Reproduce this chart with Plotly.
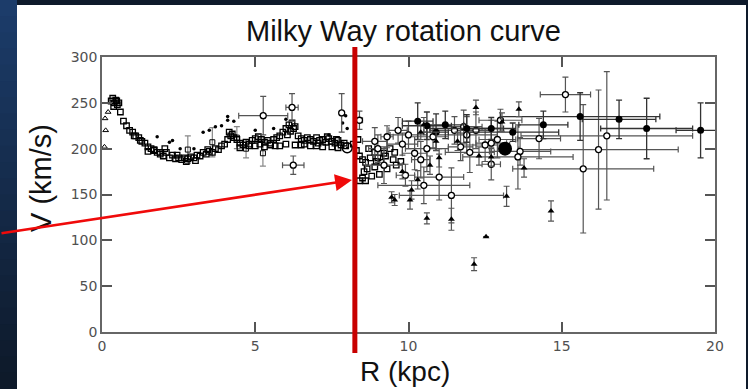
import plotly.graph_objects as go

# ---------------- data ----------------
# dense inner curve: open squares
sq_r = [0.3, 0.35, 0.4, 0.45, 0.5, 0.55, 0.6, 0.7, 0.8, 0.9, 1.0, 1.1, 1.2, 1.3, 1.4, 1.5,
        1.6, 1.7, 1.8, 1.9, 2.0, 2.1, 2.2, 2.3, 2.4, 2.5, 2.6, 2.7, 2.8, 2.9, 3.0, 3.1,
        3.2, 3.3, 3.4, 3.5, 3.6, 3.7, 3.8, 3.9, 4.0, 4.1, 4.2, 4.3, 4.4, 4.5, 4.6, 4.7,
        4.8, 4.9, 5.0, 5.1, 5.2, 5.3, 5.4, 5.5, 5.6, 5.7, 5.8, 5.9, 6.0, 6.1, 6.2, 6.3,
        6.4, 6.5, 6.6, 6.7, 6.8, 6.9, 7.0, 7.1, 7.2, 7.3, 7.4, 7.5, 7.6, 7.7, 7.8, 7.9,
        1.5, 1.7, 1.9, 2.05, 4.5, 4.8, 5.0, 5.3, 5.5, 5.8, 6.0, 6.3, 6.5, 6.8, 7.0, 7.2,
        7.5, 7.7, 6.15, 6.25, 4.15, 4.25, 0.38, 0.48, 2.45, 2.75, 3.05, 3.45, 5.15, 5.65,
        6.05, 6.6, 7.05, 7.35, 7.65, 7.95, 1.25, 1.05,
        8.2, 8.3, 8.4, 8.5, 8.6, 8.5, 8.4, 8.6, 8.8, 8.9, 9.0, 9.1, 9.2, 9.3, 9.5, 9.6,
        8.7, 8.9, 9.4, 8.55, 8.75, 9.05, 8.35, 8.65, 8.95, 9.25, 9.55, 9.75]
sq_v = [252, 255, 250, 253, 248, 250, 240, 230, 225, 220, 218, 214, 212, 208, 206, 202,
        200, 198, 196, 194, 192, 196, 190, 193, 189, 190, 188, 190, 189, 191, 190, 193,
        192, 196, 194, 197, 196, 200, 199, 203, 205, 210, 214, 212, 210, 206, 204, 207,
        205, 209, 211, 213, 210, 207, 209, 206, 210, 212, 214, 218, 222, 226, 228, 224,
        214, 211, 209, 212, 210, 208, 212, 209, 210, 207, 211, 208, 206, 209, 204, 206,
        197, 199, 196, 200, 201, 203, 203, 202, 204, 203, 205, 204, 204, 203, 203, 202,
        202, 201, 219, 222, 218, 216, 246, 252, 193, 186, 187, 199, 205, 203,
        215, 205, 206, 213, 210, 203, 209, 214,
        205, 198, 192, 188, 185, 168, 165, 165, 170, 180, 190, 185, 195, 178, 188, 182,
        200, 196, 200, 175, 190, 172, 210, 178, 186, 192, 196, 186]

# small filled dots
dot_r = [1.8, 2.2, 2.3, 2.55, 3.0, 3.3, 3.5, 3.7, 3.9, 4.1, 4.1, 4.3, 5.0, 5.6, 6.0,
         7.4, 7.85, 7.95, 8.0]
dot_v = [213, 207, 209, 200, 200, 218, 220, 224, 225, 235, 231, 230, 220, 222, 232,
         215, 228, 236, 222]

# open triangles at the very centre
tri_o_r = [0.1, 0.12, 0.08, 0.2]
tri_o_v = [233, 220, 202, 240]

# inner points with error bars (small crosses)
ie_r = [2.8, 3.6, 4.4, 5.25, 4.7]
ie_v = [199, 207, 212, 195, 200]
ie_dv = [15, 16, 12, 14, 10]

# open circles with error bars
oc_r = [5.26, 6.2, 6.24, 7.82, 8.4, 9.66, 9.3, 9.0, 9.8, 10.2, 10.0, 10.4, 10.8, 11.5,
        11.8, 11.9, 12.2, 12.5, 12.7, 12.9, 13.0, 11.7, 12.0, 12.7, 13.64, 13.57, 14.26,
        15.12, 16.47, 16.2, 15.7, 11.4, 11.0, 10.5, 9.9, 9.2, 8.9, 10.6]
oc_v = [236, 245, 182, 239, 231, 220, 213, 200, 205, 195, 215, 188, 213, 220,
        224, 215, 220, 204, 206, 210, 231, 202, 196, 183, 197, 191, 211,
        259, 214, 199, 178, 149, 169, 160, 171, 182, 208, 200]
oc_dr = [0.8, 0.2, 0.35, 0.0, 0.1, 0.3, 0.2, 0.3, 0.5, 0.4, 0.6, 0.3, 0.5, 0.8,
         0.6, 1.0, 0.5, 0.8, 0.5, 0.6, 0.7, 0.4, 0.8, 0.3, 1.0, 1.8, 0.7,
         0.82, 2.8, 2.6, 2.3, 1.7, 0.8, 1.5, 0.3, 0.6, 0.4, 0.7]
oc_dv = [21, 15, 10, 21, 10, 14, 12, 15, 12, 18, 15, 20, 12, 15,
         18, 20, 20, 18, 25, 20, 12, 15, 22, 17, 15, 35, 22,
         19, 70, 65, 70, 30, 25, 20, 12, 20, 15, 25]

# filled circles with error bars
fc_r = [11.2, 11.9, 12.7, 13.4, 14.4, 15.6, 16.87, 17.77, 19.53, 10.6, 10.3, 10.9]
fc_v = [226, 222, 222, 218, 226, 235, 232, 222, 220, 225, 230, 218]
fc_dr = [0.6, 1.2, 0.8, 1.5, 0.8, 2.6, 1.2, 1.5, 0.8, 0.8, 0.5, 0.4]
fc_dv = [15, 15, 12, 10, 15, 26, 21, 33, 30, 15, 20, 20]

# filled triangles with error bars
ft_r = [12.2, 13.6, 13.77, 13.2, 14.65, 12.53, 12.14, 11.4, 11.0, 11.6, 12.3, 12.7,
        13.05, 10.4, 10.5, 10.7, 10.1, 10.05, 9.45, 9.55, 10.3, 10.6, 9.8, 10.9]
ft_v = [245, 243, 179, 148, 132, 104, 74, 123, 190, 208, 192, 191,
        229, 218, 226, 182, 155, 144, 147, 144, 166, 124, 175, 208]
ft_dv = [8, 8, 10, 11, 11, 0, 7, 12, 10, 10, 10, 10,
         10, 8, 8, 10, 10, 10, 6, 6, 10, 6, 8, 10]

# special markers
big_r = [13.15]
big_v = [200]
sun_r = [8.0]
sun_v = [201]

r_sun_line = 8.25          # position of the red vertical line (kpc)

x_ticks = [0, 5, 10, 15, 20]
y_ticks = [0, 50, 100, 150, 200, 250, 300]

# ---------------- geometry ----------------
W, H = 748, 389
ML, MR, MT, MB = 102, 33, 57, 57
PW, PH = W - ML - MR, H - MT - MB


def pxx(p):
    return (p - ML) / PW


def pxy(p):
    return (H - MB - p) / PH


EB = "#555555"
fig = go.Figure()

fig.add_trace(go.Scatter(x=ie_r, y=ie_v, mode="markers",
                         marker=dict(symbol="square-open", size=5, color="black", line=dict(width=1)),
                         error_y=dict(type="data", array=ie_dv, color="#888888", thickness=1.2, width=3)))
fig.add_trace(go.Scatter(x=sq_r, y=sq_v, mode="markers",
                         marker=dict(symbol="square-open", size=5.5, color="black", line=dict(width=1.3))))
fig.add_trace(go.Scatter(x=dot_r, y=dot_v, mode="markers",
                         marker=dict(symbol="circle", size=3.5, color="black")))
fig.add_trace(go.Scatter(x=tri_o_r, y=tri_o_v, mode="markers",
                         marker=dict(symbol="triangle-up-open", size=5, color="black", line=dict(width=1))))
fig.add_trace(go.Scatter(x=oc_r, y=oc_v, mode="markers",
                         marker=dict(symbol="circle", size=6, color="white", line=dict(width=1.3, color="black")),
                         error_x=dict(type="data", array=oc_dr, color=EB, thickness=1.2, width=3),
                         error_y=dict(type="data", array=oc_dv, color=EB, thickness=1.2, width=3)))
fig.add_trace(go.Scatter(x=fc_r, y=fc_v, mode="markers",
                         marker=dict(symbol="circle", size=7, color="black"),
                         error_x=dict(type="data", array=fc_dr, color="#333333", thickness=1.3, width=3),
                         error_y=dict(type="data", array=fc_dv, color="#333333", thickness=1.3, width=3)))
fig.add_trace(go.Scatter(x=ft_r, y=ft_v, mode="markers",
                         marker=dict(symbol="triangle-up", size=6, color="black"),
                         error_y=dict(type="data", array=ft_dv, color=EB, thickness=1.2, width=3)))
fig.add_trace(go.Scatter(x=big_r, y=big_v, mode="markers",
                         marker=dict(symbol="circle", size=14, color="black")))
fig.add_trace(go.Scatter(x=sun_r, y=sun_v, mode="markers",
                         marker=dict(symbol="circle-open-dot", size=10, color="black", line=dict(width=1.5))))

shapes = []
# slide background: left gradient strip
n = 24
top_c = (28, 60, 106)
bot_c = (14, 26, 42)
for i in range(n):
    t = i / (n - 1)
    c = tuple(int(top_c[k] + (bot_c[k] - top_c[k]) * t) for k in range(3))
    y0p = i * H / n
    y1p = (i + 1) * H / n + 1
    shapes.append(dict(type="rect", xref="paper", yref="paper", layer="below",
                       x0=pxx(-2), x1=pxx(17), y0=pxy(y1p), y1=pxy(y0p),
                       fillcolor="rgb(%d,%d,%d)" % c, line=dict(width=0)))
# white panel
shapes.append(dict(type="rect", xref="paper", yref="paper", layer="below",
                   x0=pxx(17), x1=pxx(746), y0=pxy(392), y1=pxy(5),
                   fillcolor="white", line=dict(width=0)))
# red vertical line at R0
xr = (r_sun_line - x_ticks[0]) / (x_ticks[-1] - x_ticks[0])
shapes.append(dict(type="line", xref="paper", yref="paper", layer="above",
                   x0=xr, x1=xr, y0=pxy(353), y1=pxy(47),
                   line=dict(color="#c80000", width=5)))

annotations = [
    dict(text="Milky Way rotation curve", xref="paper", yref="paper", x=pxx(403), y=pxy(31),
         xanchor="center", yanchor="middle", showarrow=False,
         font=dict(family="Liberation Sans, Arial", size=29, color="#111111")),
    dict(text="V (km/s)", xref="paper", yref="paper", x=pxx(41), y=pxy(178), textangle=-90,
         xanchor="center", yanchor="middle", showarrow=False,
         font=dict(family="Liberation Sans, Arial", size=29, color="#111111")),
    dict(text="R (kpc)", xref="paper", yref="paper", x=pxx(405), y=pxy(355),
         xanchor="center", yanchor="top", showarrow=False, borderpad=0,
         font=dict(family="Liberation Sans, Arial", size=28, color="#111111")),
    dict(text="", xref="paper", yref="paper", x=pxx(352), y=pxy(180),
         ax=-362, ay=53.5, axref="pixel", ayref="pixel", showarrow=True,
         arrowhead=2, arrowsize=1.3, arrowwidth=2.6, arrowcolor="#f00a0a", standoff=0),
]

axis_common = dict(showgrid=False, zeroline=False, showline=True, linecolor="#666666", linewidth=1.6,
                   mirror="allticks", ticks="inside", ticklen=10, tickwidth=2, tickcolor="#555555",
                   tickfont=dict(family="DejaVu Sans", size=14, color="#505050"))

fig.update_layout(
    width=W, height=H,
    margin=dict(l=ML, r=MR, t=MT, b=MB, pad=0),
    paper_bgcolor="#0e1a2b", plot_bgcolor="rgba(0,0,0,0)",
    showlegend=False,
    xaxis=dict(range=[x_ticks[0], x_ticks[-1]], tickvals=x_ticks, ticklabelstandoff=0, **axis_common),
    yaxis=dict(range=[y_ticks[0], y_ticks[-1]], tickvals=y_ticks, **axis_common),
    shapes=shapes, annotations=annotations,
)

fig.write_html("out.html")
